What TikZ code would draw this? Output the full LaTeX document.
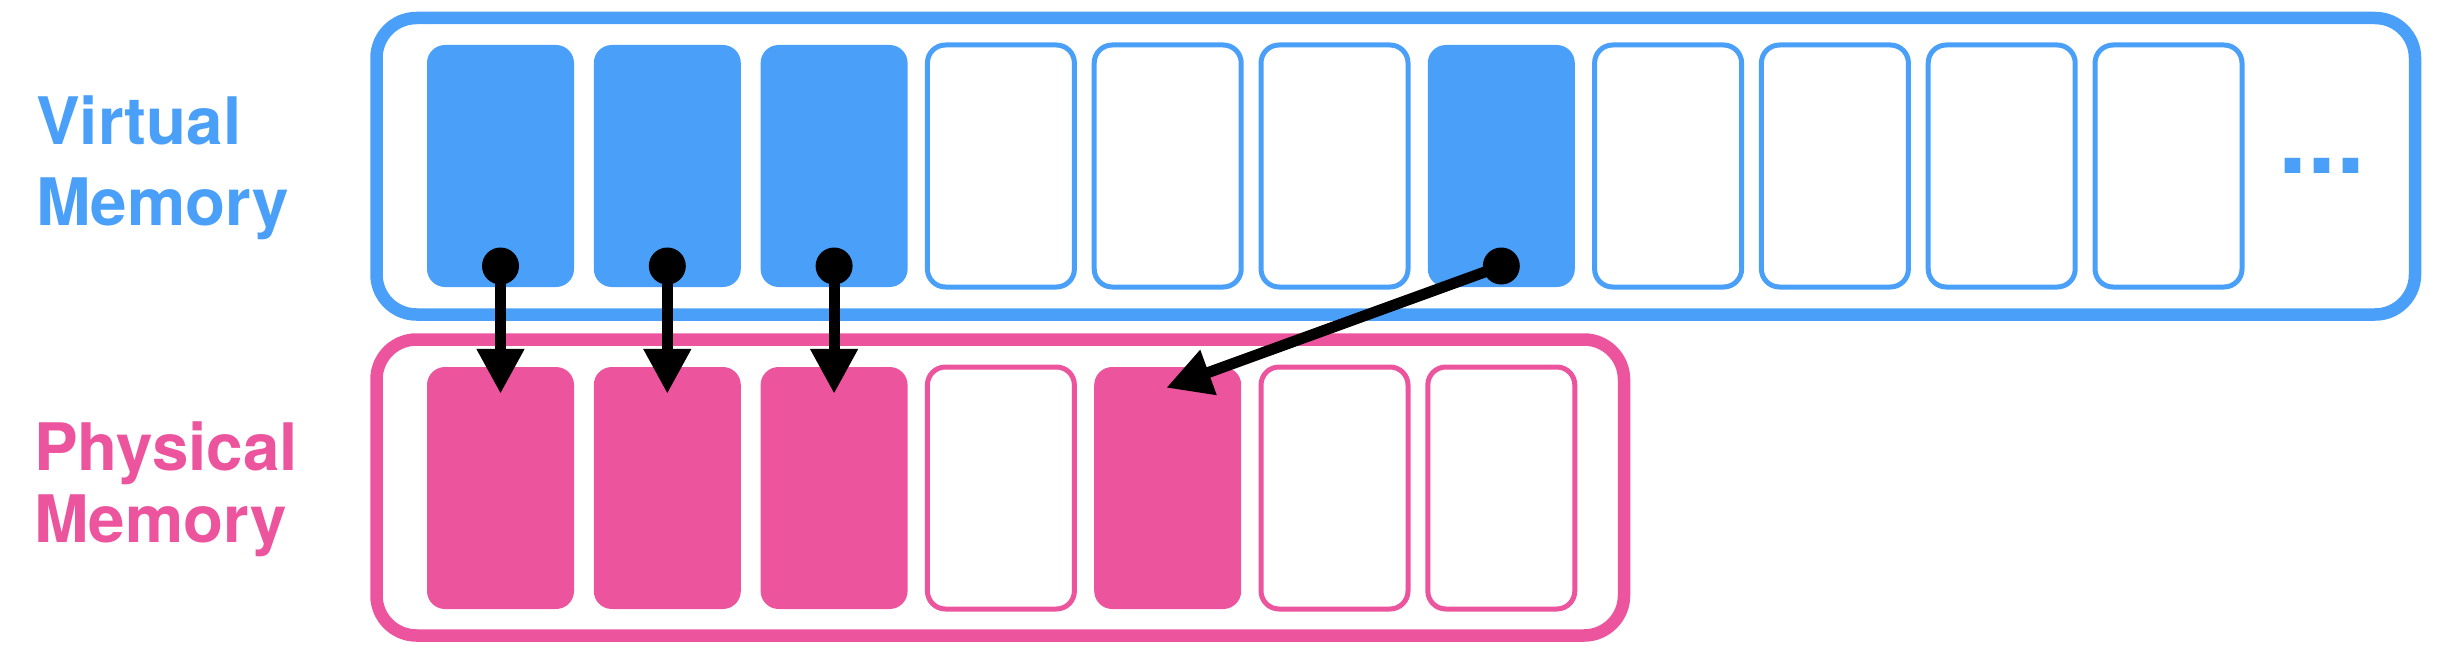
\documentclass[tikz,border=0pt]{standalone}
\usepackage{fontspec}
\setmainfont{TeX Gyre Heros}
\usetikzlibrary{arrows.meta,calc}
\definecolor{vblue}{HTML}{4AA0F8}
\definecolor{ppink}{HTML}{EC549E}
\begin{document}
\begin{tikzpicture}[x=1pt,y=-1pt,
  cellfull/.style={rectangle, rounded corners=18pt, minimum width=147pt, minimum height=242pt, inner sep=0pt, fill=#1},
  cellopen/.style={rectangle, rounded corners=18pt, minimum width=147pt, minimum height=242pt, inner sep=0pt, draw=#1, line width=5pt, fill=white},
  memframe/.style={rectangle, rounded corners=40pt, draw=#1, line width=12.5pt, inner sep=0pt},
  lbl/.style={font=\fontsize{65.5}{80}\selectfont\bfseries, anchor=base west, inner sep=0pt},
  dotnode/.style={circle, fill=black, minimum size=37pt, inner sep=0pt},
  link/.style={line width=11pt, -{Triangle[length=45pt,width=45pt]}}]
\useasboundingbox (0,0) rectangle (2452,658);
% frames
\node[memframe=vblue, minimum width=2038.5pt, minimum height=296.5pt] (vbox) at (1395.75,166.25) {};
\node[memframe=ppink, minimum width=1247.5pt, minimum height=296pt] (pbox) at (1000.25,487.5) {};
% labels
\node[lbl, text=vblue] (vl1) at (36,145) {Virtual};
\node[lbl, text=vblue] (vl2) at (36,225) {Memory};
\node[lbl, text=ppink] (pl1) at (34,470) {Physical};
\node[lbl, text=ppink] (pl2) at (34,542.7) {Memory};
\node[font=\fontsize{104}{104}\selectfont\bfseries, text=vblue, anchor=base west, inner sep=0pt] (more) at (2278,173) {...};
% virtual cells
\node[cellfull=vblue] (v1) at (500.5,166) {};
\node[cellfull=vblue] (v2) at (667.3,166) {};
\node[cellfull=vblue] (v3) at (834.1,166) {};
\node[cellopen=vblue] (v4) at (1000.9,166) {};
\node[cellopen=vblue] (v5) at (1167.7,166) {};
\node[cellopen=vblue] (v6) at (1334.5,166) {};
\node[cellfull=vblue] (v7) at (1501.3,166) {};
\node[cellopen=vblue] (v8) at (1668.1,166) {};
\node[cellopen=vblue] (v9) at (1834.9,166) {};
\node[cellopen=vblue] (v10) at (2001.7,166) {};
\node[cellopen=vblue] (v11) at (2168.5,166) {};
% physical cells
\node[cellfull=ppink] (p1) at (500.5,488) {};
\node[cellfull=ppink] (p2) at (667.3,488) {};
\node[cellfull=ppink] (p3) at (834.1,488) {};
\node[cellopen=ppink] (p4) at (1000.9,488) {};
\node[cellfull=ppink] (p5) at (1167.7,488) {};
\node[cellopen=ppink] (p6) at (1334.5,488) {};
\node[cellopen=ppink] (p7) at (1501.3,488) {};
% dots and targets
\node[dotnode] (d1) at ($(v1.center)+(0,100)$) {};
\node[dotnode] (d2) at ($(v2.center)+(0,100)$) {};
\node[dotnode] (d3) at ($(v3.center)+(0,100)$) {};
\node[dotnode] (d7) at ($(v7.center)+(0,100)$) {};
\coordinate (t1) at ($(p1.north)+(0,27)$);
\coordinate (t2) at ($(p2.north)+(0,27)$);
\coordinate (t3) at ($(p3.north)+(0,27)$);
\coordinate (t5) at ($(p5.north)+(-1.5,21)$);
% links
\draw[link] (d1.center) -- (t1);
\draw[link] (d2.center) -- (t2);
\draw[link] (d3.center) -- (t3);
\draw[link] (d7.center) -- (t5);
\end{tikzpicture}
\end{document}
